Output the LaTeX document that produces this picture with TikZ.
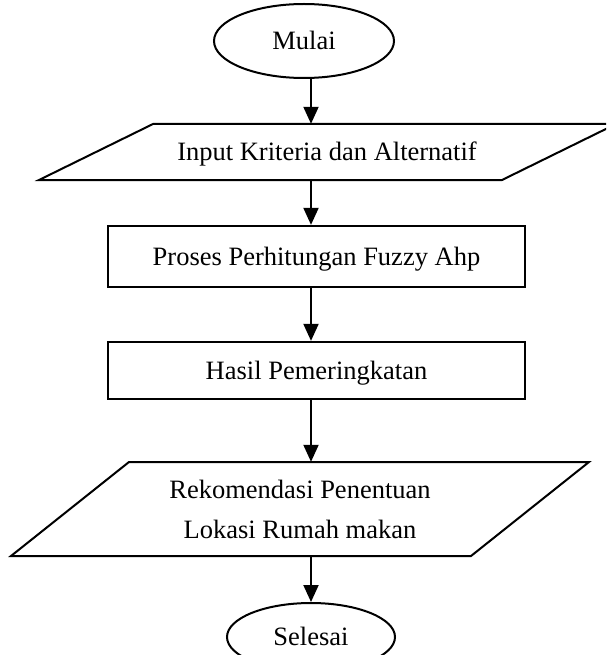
\documentclass[tikz,border=0pt]{standalone}
\usepackage{fontspec}
\setmainfont{Liberation Serif}
\usetikzlibrary{shapes.geometric,arrows.meta}
\begin{document}
\begin{tikzpicture}[x=1pt,y=-1pt,
  every node/.style={font=\fontsize{26.5}{40}\selectfont},
  outline/.style={draw=black,line width=2pt},
  terminal/.style={outline,ellipse,inner sep=0pt},
  procbox/.style={draw=black,line width=2.3pt,rectangle,inner sep=0pt,minimum width=417pt},
  iotext/.style={inner sep=0pt,align=center},
  capline/.style={text height=17.5pt,text depth=0pt},
  flow/.style={line width=2pt,-{Triangle[length=17pt,width=15pt]}}
]
\useasboundingbox (0,0) rectangle (606,655);
\clip (0,0) rectangle (606,655);

% vertical line along which the flow arrows run
\coordinate (col) at (311,0);

% start terminal
\node[terminal,capline,minimum width=180pt,minimum height=74pt] (mulai) at (304,41) {Mulai};

% input parallelogram
\draw[outline] (153,124) -- (616,124) -- (502,180) -- (39,180) -- cycle;
\node[iotext,capline,minimum height=56pt] (input) at (327,152) {Input Kriteria dan Alternatif};

% processing steps
\node[procbox,capline,minimum height=61pt] (proses) at (316.5,256.5) {Proses Perhitungan Fuzzy Ahp};
\node[procbox,capline,minimum height=57pt] (hasil) at (316.5,370.5) {Hasil Pemeringkatan};

% output parallelogram
\draw[outline] (129,462) -- (589,462) -- (471,556) -- (11,556) -- cycle;
\node[iotext,minimum height=94pt] (rekom) at (300,509) {Rekomendasi Penentuan\\Lokasi Rumah makan};

% end terminal
\node[terminal,capline,minimum width=168pt,minimum height=68pt] (selesai) at (311,637) {Selesai};

% flow connectors
\draw[flow] (mulai.south -| col) -- (input.north -| col);
\draw[flow] (input.south -| col) -- (proses.north -| col);
\draw[flow] (proses.south -| col) -- (hasil.north -| col);
\draw[flow] (hasil.south -| col) -- (rekom.north -| col);
\draw[flow] (rekom.south -| col) -- (selesai.north -| col);
\end{tikzpicture}
\end{document}
